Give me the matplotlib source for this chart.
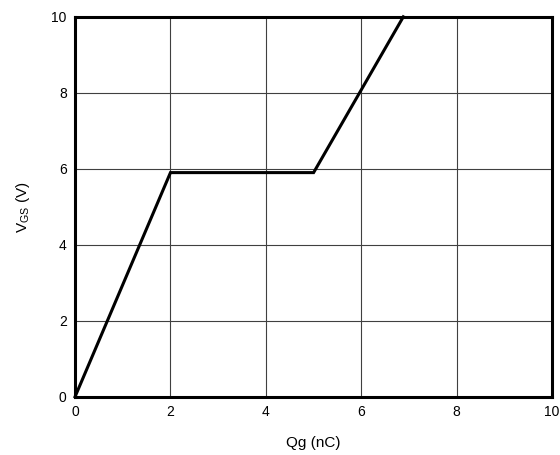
import matplotlib
matplotlib.use("Agg")
import matplotlib.pyplot as plt

# gate charge curve
qg = [0, 2, 5, 6.88]
vgs = [0, 5.9, 5.9, 10]

x_ticks = [0, 2, 4, 6, 8, 10]
y_ticks = [0, 2, 4, 6, 8, 10]

plt.rcParams['font.family'] = ['Liberation Sans', 'DejaVu Sans']

fig = plt.figure(figsize=(5.6, 4.55), dpi=100)
ax = fig.add_axes([0.134, 0.128, 0.852, 0.835])

ax.plot(qg, vgs, color='black', linewidth=2.2, solid_joinstyle='miter', clip_on=False, zorder=3)

ax.set_xlim(0, 10)
ax.set_ylim(0, 10)
ax.set_xticks(x_ticks)
ax.set_yticks(y_ticks)
ax.grid(True, color='#404040', linewidth=0.8)
ax.tick_params(length=0, labelsize=10, pad=6)
for s in ax.spines.values():
    s.set_linewidth(2.2)

ax.set_xlabel('Qg (nC)', fontsize=11, labelpad=12)
ax.set_ylabel('V$_{\\mathregular{GS}}$ (V)', fontsize=11, labelpad=14)

fig.savefig('out.png', dpi=100)
